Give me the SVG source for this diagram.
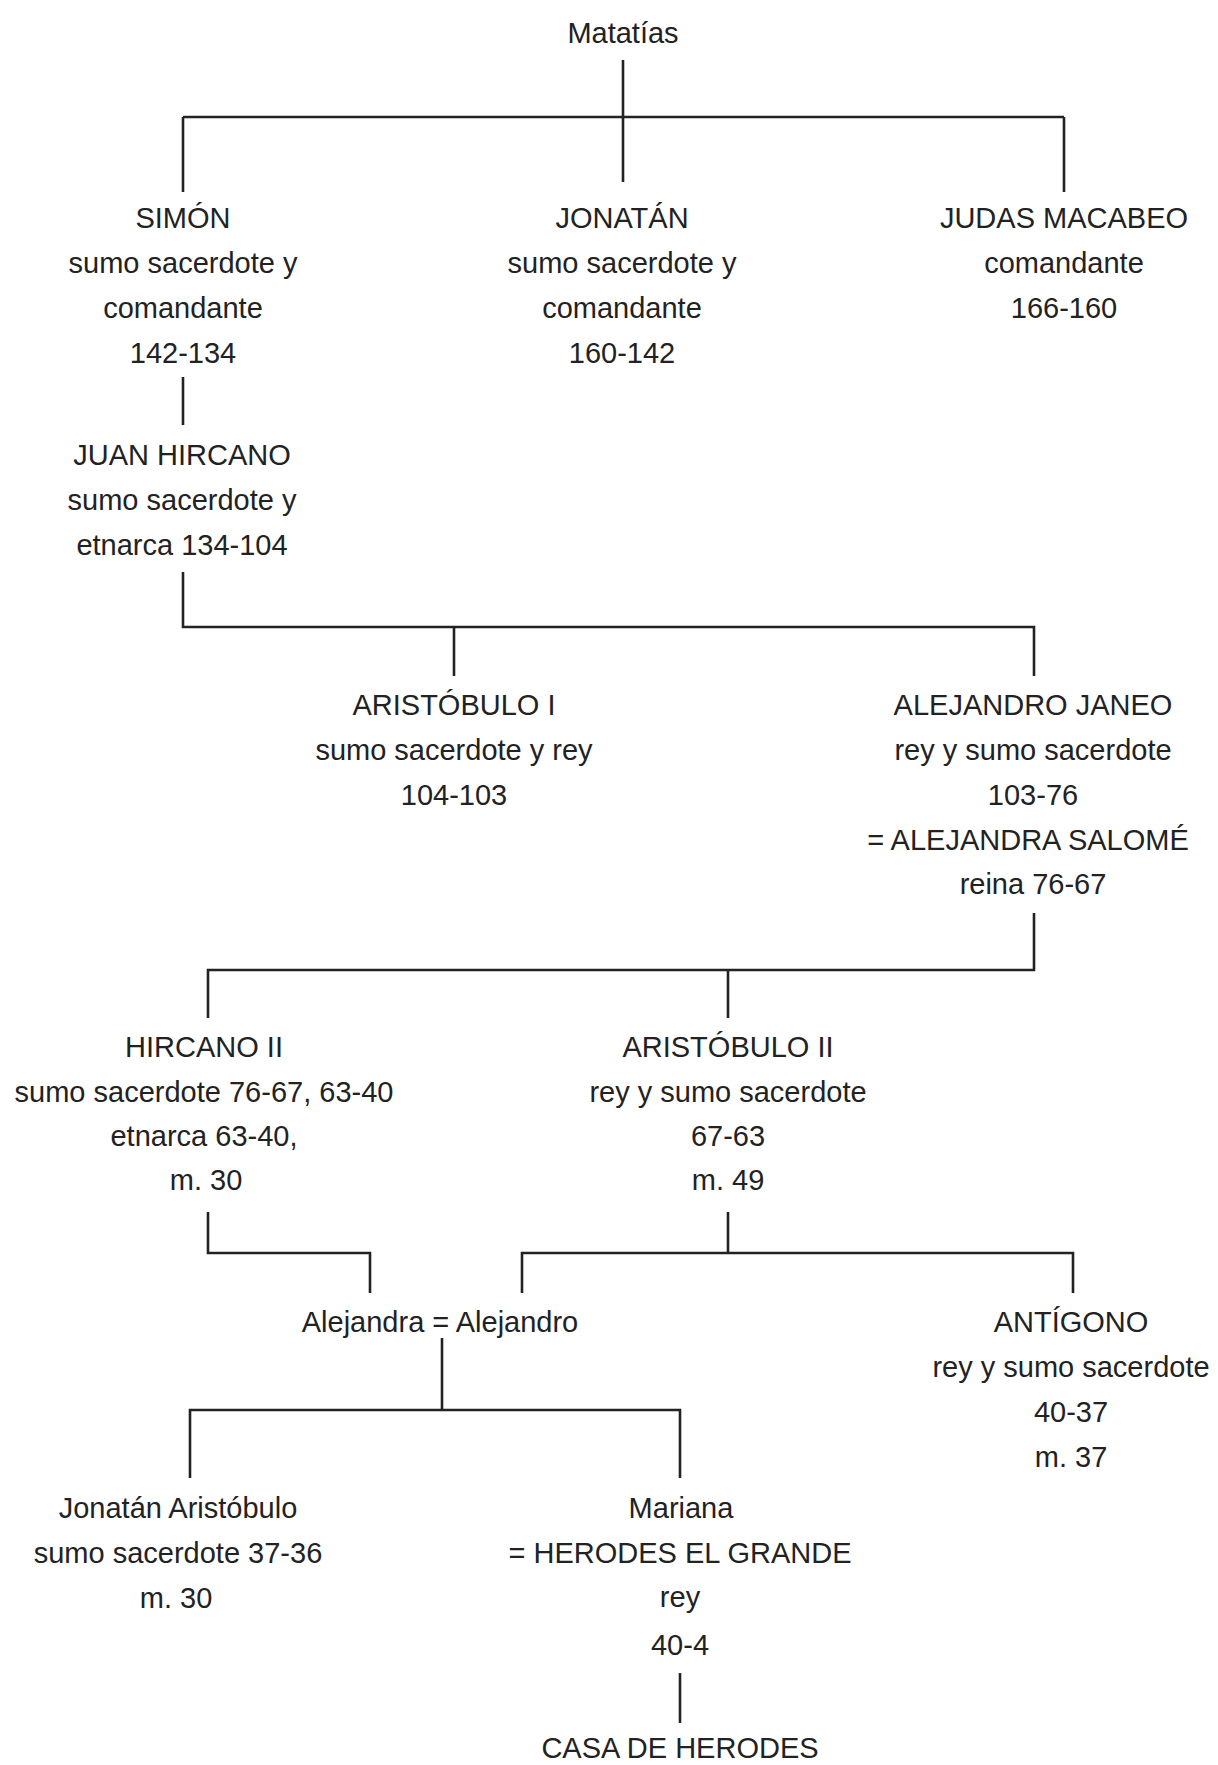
<svg xmlns="http://www.w3.org/2000/svg" width="1218" height="1765" viewBox="0 0 1218 1765">
<style>
text{font-family:"Liberation Sans",Arial,sans-serif;font-size:29px;fill:#222;text-anchor:middle}
.c path{fill:none;stroke:#222;stroke-width:2.6}
</style>
<rect width="1218" height="1765" fill="#fff"/>
<g class="c" id="connectors">
<path d="M623,60 V182"/>
<path d="M183,117 H1064"/>
<path d="M183,117 V192"/>
<path d="M1064,117 V192"/>
<path d="M183,377 V425"/>
<path d="M183,572 V627 H1034 V676"/>
<path d="M454,627 V676"/>
<path d="M1034,913 V970 H208 V1018"/>
<path d="M728,970 V1018"/>
<path d="M208,1212 V1253 H370 V1293"/>
<path d="M728,1212 V1253"/>
<path d="M522,1293 V1253 H1073 V1293"/>
<path d="M442,1338 V1410"/>
<path d="M190,1478 V1410 H680 V1478"/>
<path d="M680,1673 V1723"/>
</g>
<g id="matatias"><text x="623" y="43">Matatías</text></g>
<g id="simon"><text x="183" y="228">SIMÓN</text><text x="183" y="273">sumo sacerdote y</text><text x="183" y="318">comandante</text><text x="183" y="363">142-134</text></g>
<g id="jonatan"><text x="622" y="228">JONATÁN</text><text x="622" y="273">sumo sacerdote y</text><text x="622" y="318">comandante</text><text x="622" y="363">160-142</text></g>
<g id="judas"><text x="1064" y="228">JUDAS MACABEO</text><text x="1064" y="273">comandante</text><text x="1064" y="318">166-160</text></g>
<g id="juan-hircano"><text x="182" y="465">JUAN HIRCANO</text><text x="182" y="510">sumo sacerdote y</text><text x="182" y="555">etnarca 134-104</text></g>
<g id="aristobulo-i"><text x="454" y="715">ARISTÓBULO I</text><text x="454" y="760">sumo sacerdote y rey</text><text x="454" y="805">104-103</text></g>
<g id="alejandro-janeo"><text x="1033" y="715">ALEJANDRO JANEO</text><text x="1033" y="760">rey y sumo sacerdote</text><text x="1033" y="805">103-76</text><text x="1028" y="850">= ALEJANDRA SALOMÉ</text><text x="1033" y="894">reina 76-67</text></g>
<g id="hircano-ii"><text x="204" y="1057">HIRCANO II</text><text x="204" y="1102">sumo sacerdote 76-67, 63-40</text><text x="204" y="1146">etnarca 63-40,</text><text x="206" y="1190">m. 30</text></g>
<g id="aristobulo-ii"><text x="728" y="1057">ARISTÓBULO II</text><text x="728" y="1102">rey y sumo sacerdote</text><text x="728" y="1146">67-63</text><text x="728" y="1190">m. 49</text></g>
<g id="alejandra-alejandro"><text x="440" y="1332">Alejandra = Alejandro</text></g>
<g id="antigono"><text x="1071" y="1332">ANTÍGONO</text><text x="1071" y="1377">rey y sumo sacerdote</text><text x="1071" y="1422">40-37</text><text x="1071" y="1467">m. 37</text></g>
<g id="jonatan-aristobulo"><text x="178" y="1518">Jonatán Aristóbulo</text><text x="178" y="1563">sumo sacerdote 37-36</text><text x="176" y="1608">m. 30</text></g>
<g id="mariana"><text x="681" y="1518">Mariana</text><text x="680" y="1563">= HERODES EL GRANDE</text><text x="680" y="1607">rey</text><text x="680" y="1655">40-4</text></g>
<g id="casa-herodes"><text x="680" y="1758">CASA DE HERODES</text></g>
</svg>
